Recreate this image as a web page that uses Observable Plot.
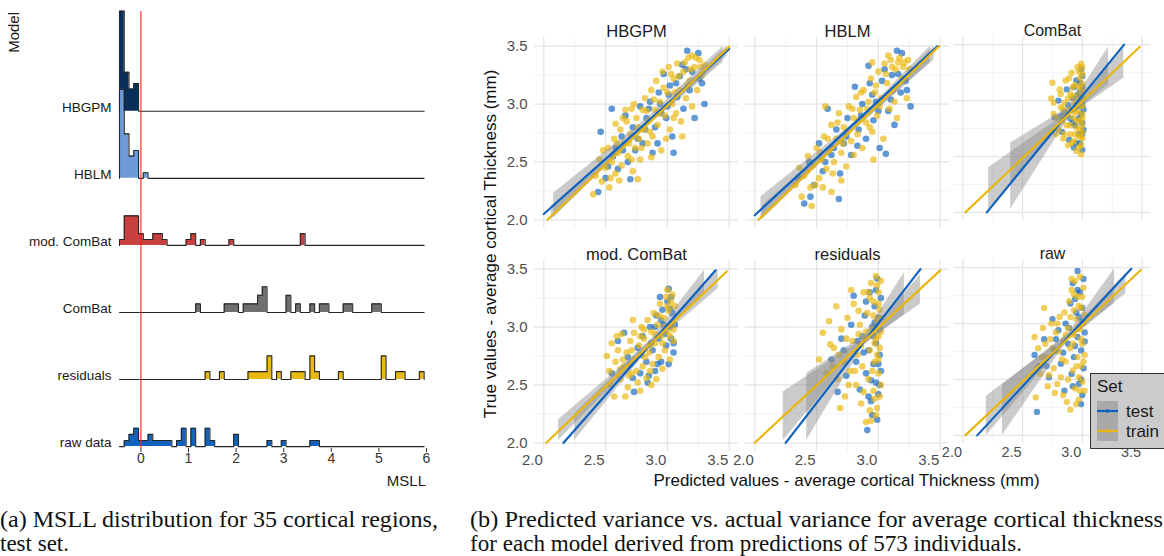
<!DOCTYPE html>
<html>
<head>
<meta charset="utf-8">
<script src="https://cdn.jsdelivr.net/npm/d3@7"></script>
<script src="https://cdn.jsdelivr.net/npm/@observablehq/plot@0.6"></script>
<style>
  html, body { margin: 0; padding: 0; background: #fff; }
  #root { position: relative; width: 1164px; height: 556px; overflow: hidden; font-family: 'Liberation Sans', Arial, sans-serif; }
  .abs { position: absolute; }
</style>
</head>
<body>
<div id="root"></div>
<script>
// ---------------- (a) MSLL ridgeline histograms ----------------
const models = ["HBGPM", "HBLM", "mod. ComBat", "ComBat", "residuals", "raw data"];
const modelColors = ["#0b2f5b", "#6e9bd8", "#c7403f", "#6f6f6f", "#e9b90f", "#0f63bd"];
// [bin start, count] ; bin width 0.1
const hbgpmBins = [[-0.45,18],[-0.35,7],[-0.25,4],[-0.15,5]];
const hblmBins = [[-0.45,16],[-0.35,8],[-0.25,4],[-0.15,5],[0.05,1]];
const modCombatBins = [[-0.45,1],[-0.35,5],[-0.25,5],[-0.15,5],[-0.05,2],[0.05,1],[0.15,1],[0.25,2],[0.35,2],[0.45,1],[0.95,1],[1.05,2],[1.25,1],[1.85,1],[3.35,2]];
const combatBins = [[1.15,1],[1.75,1],[1.85,1],[1.95,1],[2.15,1],[2.25,1],[2.35,1],[2.45,2],[2.55,3],[3.05,2],[3.25,1],[3.55,1],[3.75,1],[3.85,1],[4.25,1],[4.35,1],[4.85,1],[4.95,1]];
const residualBins = [[1.35,1],[1.65,1],[2.25,1],[2.35,1],[2.45,1],[2.55,1],[2.65,3],[2.85,1],[3.15,1],[3.25,1],[3.35,1],[3.55,3],[3.65,1],[4.15,1],[5.05,3],[5.35,1],[5.45,1],[5.85,1]];
const rawBins = [[-0.35,1],[-0.25,2],[-0.15,3],[-0.05,1],[0.05,1],[0.15,2],[0.25,1],[0.35,1],[0.45,1],[0.55,1],[0.75,1],[0.85,3],[1.05,3],[1.35,3],[1.45,1],[1.95,2],[2.65,1],[2.95,1],[3.55,1],[3.65,1]];
const msllTicks = [0, 1, 2, 3, 4, 5, 6];

// ---------------- (b) scatter facets ----------------
const facetNames = ["HBGPM", "HBLM", "ComBat", "mod. ComBat", "residuals", "raw"];
const axisTicks = [2.0, 2.5, 3.0, 3.5];
const minorTicks = [2.25, 2.75, 3.25];
const setNames = ["test", "train"];

const hbgpmTrain = [[2.40,2.22],[2.42,2.38],[2.45,2.52],[2.47,2.33],[2.50,2.45],[2.52,2.62],[2.53,2.28],[2.55,2.50],[2.57,2.70],[2.58,2.40],[2.60,2.58],[2.62,2.78],[2.63,2.47],[2.65,2.66],[2.67,2.85],[2.68,2.55],[2.70,2.74],[2.71,2.96],[2.72,2.42],[2.74,2.62],[2.75,2.88],[2.77,2.70],[2.78,2.52],[2.80,2.95],[2.81,2.78],[2.82,3.05],[2.84,2.66],[2.85,2.86],[2.87,3.12],[2.88,2.72],[2.90,2.95],[2.91,3.20],[2.92,2.82],[2.94,3.02],[2.95,2.60],[2.96,3.28],[2.98,2.90],[3.00,3.10],[3.01,3.32],[3.02,2.78],[3.04,3.00],[3.05,3.22],[3.07,2.92],[3.08,3.35],[3.10,3.12],[3.11,2.85],[3.13,3.28],[3.15,3.05],[3.17,3.40],[3.18,3.20],[3.20,2.98],[3.22,3.32],[3.24,3.12],[3.26,3.38],[3.28,3.25],[3.30,3.34],[2.66,2.95],[2.76,2.35],[3.12,2.72],[2.58,2.83],[3.20,3.42],
  [2.48,2.60],[2.54,2.36],[2.59,2.66],[2.61,2.34],[2.64,2.88],[2.69,2.66],[2.73,3.00],[2.76,2.80],[2.79,2.62],[2.83,2.94],[2.86,2.76],[2.89,3.04],[2.93,2.92],[2.97,3.14],[2.99,2.70],[3.03,3.26],[3.06,3.10],[3.09,3.24],[3.14,3.36],[3.16,3.16],[3.19,3.30],[3.23,3.40],[3.27,3.32],[2.87,2.54],[2.71,2.52],[3.05,2.88]];
const hbgpmTest = [[2.44,2.24],[2.46,2.76],[2.50,2.36],[2.55,2.96],[2.56,2.55],[2.60,2.44],[2.63,2.72],[2.66,2.90],[2.68,2.50],[2.72,2.80],[2.74,2.60],[2.78,2.98],[2.80,2.66],[2.83,2.88],[2.86,3.02],[2.88,2.58],[2.90,2.80],[2.93,3.10],[2.95,2.92],[2.97,3.26],[3.00,2.98],[3.02,3.16],[3.04,2.72],[3.05,2.58],[3.08,3.06],[3.10,3.24],[3.13,2.96],[3.15,3.30],[3.16,3.46],[3.18,3.12],[3.22,2.88],[3.25,3.44],[3.26,3.22],[3.28,3.18],[3.30,3.00],[2.92,2.66],[2.70,2.35],
  [2.52,2.46],[2.58,2.62],[2.64,2.60],[2.76,2.70],[2.85,2.96],[2.94,3.00],[3.01,3.08],[3.07,3.18],[3.12,3.34],[3.20,3.28],[2.99,2.88],[2.82,2.78]];
const hblmTrain = [[2.33,2.30],[2.36,2.45],[2.38,2.20],[2.40,2.38],[2.43,2.55],[2.45,2.28],[2.47,2.47],[2.50,2.62],[2.52,2.36],[2.54,2.52],[2.56,2.72],[2.58,2.44],[2.60,2.60],[2.62,2.82],[2.64,2.50],[2.66,2.70],[2.68,2.92],[2.70,2.58],[2.72,2.80],[2.74,2.46],[2.76,2.98],[2.78,2.68],[2.80,2.88],[2.82,3.06],[2.83,2.74],[2.85,2.95],[2.87,2.62],[2.88,3.12],[2.90,2.84],[2.92,3.02],[2.94,3.22],[2.95,2.76],[2.97,3.10],[2.99,2.90],[3.00,3.28],[3.02,3.05],[3.04,2.70],[3.05,3.35],[3.07,3.18],[3.09,2.96],[3.10,3.38],[3.12,3.12],[3.14,3.30],[3.15,2.88],[3.17,3.40],[3.19,3.22],[3.21,3.36],[3.23,3.05],[3.25,3.30],[2.57,2.98],[2.70,2.34],[2.96,2.52],[3.08,3.42],[2.46,2.12],[2.62,2.24],
  [2.42,2.42],[2.49,2.30],[2.53,2.58],[2.59,2.70],[2.63,2.40],[2.67,2.84],[2.71,2.66],[2.75,2.76],[2.79,2.96],[2.84,2.86],[2.86,3.10],[2.91,2.96],[2.93,2.80],[2.98,3.16],[3.01,2.98],[3.06,3.26],[3.11,3.32],[3.13,3.02],[3.16,3.36],[3.20,3.32],[3.24,3.38],[2.80,2.56],[2.95,3.36],[2.55,2.28]];
const hblmTest = [[2.35,2.36],[2.40,2.14],[2.44,2.50],[2.48,2.30],[2.52,2.66],[2.55,2.42],[2.59,2.96],[2.62,2.56],[2.66,2.78],[2.69,2.40],[2.72,2.66],[2.75,2.88],[2.78,2.56],[2.81,3.15],[2.84,2.78],[2.87,3.00],[2.90,2.70],[2.93,3.18],[2.96,2.86],[2.98,3.02],[3.01,2.62],[3.03,3.20],[3.06,2.57],[3.08,2.94],[3.11,3.25],[3.13,2.82],[3.15,3.46],[3.18,3.10],[3.19,3.44],[3.22,3.20],[3.23,3.12],[3.26,2.98],[2.92,3.33],[2.68,2.18],
  [2.45,2.20],[2.57,2.50],[2.64,2.62],[2.74,2.72],[2.86,2.90],[2.95,3.08],[3.00,2.94],[3.05,3.30],[3.10,3.04],[3.16,3.26],[2.83,2.64]];
const combatTrain = [[2.74,3.02],[2.76,2.88],[2.75,3.16],[2.80,2.74],[2.81,3.10],[2.83,2.82],[2.84,2.66],[2.85,2.98],[2.86,3.18],[2.87,2.78],[2.88,2.60],[2.89,2.92],[2.90,3.06],[2.90,2.70],[2.91,3.25],[2.92,2.85],[2.93,2.98],[2.93,2.64],[2.94,3.14],[2.95,2.76],[2.95,2.55],[2.96,3.30],[2.96,2.90],[2.97,3.05],[2.97,2.68],[2.98,3.20],[2.98,2.82],[2.99,2.60],[2.99,3.10],[3.00,2.95],[3.00,2.72],[2.99,3.33],[3.00,2.88],[2.99,2.52],[3.00,3.15],[3.01,3.02],[3.00,2.78],[3.00,2.66],[2.82,2.94],[2.88,3.02],[2.94,2.90],[2.97,2.58],[3.00,3.24],[2.85,2.70],[2.79,2.84],[2.92,3.12],
  [2.78,2.70],[2.82,3.06],[2.86,2.86],[2.89,3.20],[2.91,2.62],[2.94,2.70],[2.96,3.00],[2.97,3.26],[2.98,2.74],[2.99,2.96],[3.00,3.08],[3.00,2.84],[2.95,2.82],[2.92,3.04],[2.98,3.12],[2.84,2.92],[2.99,2.68],[2.90,2.78],[2.76,2.98],[3.00,3.30]];
const combatTest = [[2.77,2.85],[2.80,3.00],[2.83,2.72],[2.85,2.90],[2.87,3.10],[2.89,2.65],[2.90,2.84],[2.92,3.02],[2.93,2.58],[2.94,2.78],[2.95,3.18],[2.96,2.95],[2.97,2.70],[2.98,3.08],[2.98,2.62],[2.99,2.88],[3.00,3.22],[3.00,2.80],[3.00,3.00],[3.00,2.56],[2.99,3.28],[3.01,2.92],[3.00,3.12],[3.01,2.74],[2.91,2.92],[2.96,3.05],
  [2.82,2.86],[2.88,2.96],[2.93,3.12],[2.95,2.62],[2.97,2.84],[2.99,3.04],[3.00,2.70],[2.98,3.16],[2.92,2.80],[3.00,2.96]];
const modCombatTrain = [[2.51,2.75],[2.53,2.62],[2.55,2.86],[2.57,2.40],[2.58,2.70],[2.60,2.80],[2.62,2.55],[2.63,2.94],[2.65,2.66],[2.67,2.78],[2.68,2.48],[2.70,2.88],[2.71,2.60],[2.73,2.95],[2.74,2.72],[2.76,2.52],[2.77,2.84],[2.79,3.00],[2.80,2.66],[2.81,2.90],[2.83,2.56],[2.84,3.06],[2.85,2.78],[2.87,2.96],[2.88,2.68],[2.89,3.12],[2.90,2.86],[2.92,3.02],[2.93,2.74],[2.94,3.20],[2.95,2.92],[2.96,2.64],[2.97,3.08],[2.98,2.80],[2.99,3.26],[3.00,2.96],[3.01,3.14],[3.02,2.72],[3.03,3.22],[3.04,3.04],[3.05,2.88],[3.06,3.18],[2.66,2.40],[2.78,2.45],[2.91,2.55],[2.72,3.06],[2.86,2.62],[3.00,3.32],
  [2.54,2.50],[2.59,2.92],[2.64,2.72],[2.69,2.58],[2.71,2.80],[2.75,2.62],[2.78,2.92],[2.82,2.74],[2.86,2.84],[2.90,2.94],[2.93,3.10],[2.96,2.86],[2.98,3.00],[3.00,3.18],[3.02,2.92],[3.04,3.28],[3.05,2.98],[2.87,2.50],[2.81,2.98],[2.62,2.64]];
const modCombatTest = [[2.55,2.60],[2.60,2.88],[2.65,2.95],[2.68,2.74],[2.72,2.56],[2.73,2.44],[2.76,2.82],[2.78,2.60],[2.80,2.92],[2.83,2.70],[2.85,2.58],[2.86,3.00],[2.88,2.80],[2.90,2.62],[2.91,3.10],[2.93,2.90],[2.95,2.70],[2.96,3.15],[2.97,3.02],[2.99,2.84],[3.00,3.22],[3.01,2.68],[3.01,3.33],[3.02,3.00],[3.03,2.90],[3.04,3.12],[3.06,3.02],[3.05,2.78],[2.84,2.52],[2.94,3.26],
  [2.70,2.68],[2.79,2.76],[2.87,2.86],[2.92,2.68],[2.98,2.94],[3.02,3.16],[3.05,2.86],[2.95,3.06],[2.90,3.00],[3.03,3.26]];
const residualsTrain = [[2.52,2.72],[2.55,2.95],[2.58,2.60],[2.61,2.85],[2.64,2.82],[2.66,3.18],[2.67,2.55],[2.70,2.98],[2.72,2.70],[2.73,2.40],[2.75,3.08],[2.77,2.62],[2.79,2.88],[2.80,3.20],[2.82,2.50],[2.83,2.76],[2.85,3.02],[2.86,2.34],[2.87,2.66],[2.88,3.30],[2.89,2.90],[2.90,2.18],[2.91,3.12],[2.92,2.55],[2.93,2.80],[2.94,3.38],[2.94,2.19],[2.95,2.98],[2.96,2.45],[2.96,3.22],[2.97,2.70],[2.98,3.44],[2.98,2.90],[2.99,2.30],[2.99,3.06],[3.00,2.60],[3.00,3.30],[3.01,2.82],[3.01,3.15],[3.02,2.50],[3.02,3.40],[3.02,2.96],[2.97,2.38],[2.93,3.25],[3.00,2.72],[2.84,2.94],[2.69,2.30],[2.78,3.32],
  [2.60,3.05],[2.63,2.66],[2.68,2.76],[2.74,2.90],[2.81,2.62],[2.84,3.14],[2.88,2.44],[2.90,2.96],[2.92,3.30],[2.95,2.62],[2.96,3.10],[2.97,2.86],[2.98,2.24],[2.99,2.76],[3.00,3.20],[3.01,2.40],[3.02,3.08],[3.00,2.92],[2.93,2.28],[2.86,2.84],[2.99,3.36],[2.76,2.50]];
const residualsTest = [[2.62,2.72],[2.67,2.44],[2.70,2.90],[2.74,2.58],[2.78,3.02],[2.80,3.27],[2.82,2.70],[2.85,2.46],[2.87,2.92],[2.89,3.10],[2.90,2.60],[2.91,2.11],[2.92,2.80],[2.93,3.30],[2.94,2.36],[2.95,3.00],[2.96,2.68],[2.97,3.18],[2.98,2.52],[2.98,2.86],[2.99,3.42],[3.00,2.42],[3.00,3.08],[3.01,2.76],[3.01,2.98],[3.02,3.25],[3.02,2.62],[2.95,2.24],[2.88,2.78],[2.99,2.20],
  [2.72,2.80],[2.83,2.88],[2.90,3.22],[2.94,2.54],[2.96,2.92],[2.98,3.32],[3.00,2.68],[3.01,2.50],[2.97,3.04],[2.92,2.40]];
const rawTrain = [[2.60,2.88],[2.61,2.34],[2.63,2.78],[2.65,2.55],[2.67,2.96],[2.68,3.14],[2.70,2.70],[2.71,2.44],[2.73,2.86],[2.74,3.00],[2.76,2.60],[2.77,2.38],[2.78,2.92],[2.80,2.75],[2.81,3.06],[2.82,2.52],[2.84,2.85],[2.85,3.10],[2.86,2.66],[2.87,2.30],[2.88,2.96],[2.89,3.20],[2.90,2.23],[2.90,2.78],[2.91,3.30],[2.92,2.58],[2.93,2.90],[2.94,3.38],[2.94,2.42],[2.95,3.04],[2.96,2.70],[2.96,3.24],[2.97,2.32],[2.98,2.95],[2.98,3.42],[2.99,2.62],[2.99,3.14],[3.00,2.82],[3.00,2.48],[3.01,3.32],[3.01,3.00],[3.02,2.72],[3.02,2.40],[2.93,3.12],[2.79,2.46],[2.97,2.52],
  [2.62,2.60],[2.66,2.70],[2.69,2.82],[2.72,2.54],[2.75,2.78],[2.79,3.00],[2.83,2.68],[2.86,2.90],[2.88,2.50],[2.90,3.06],[2.92,2.82],[2.93,3.26],[2.95,2.62],[2.96,2.96],[2.97,3.16],[2.98,2.40],[2.99,2.86],[3.00,3.24],[3.01,2.66],[3.02,3.08],[2.95,2.28],[2.91,3.40],[2.84,2.36]];
const rawTest = [[2.60,2.72],[2.62,2.21],[2.64,2.62],[2.68,2.86],[2.72,2.52],[2.75,3.04],[2.77,2.76],[2.80,2.94],[2.82,2.64],[2.85,2.40],[2.86,3.00],[2.88,2.82],[2.90,3.18],[2.91,2.55],[2.92,3.36],[2.93,2.70],[2.95,3.10],[2.96,3.47],[2.96,2.88],[2.97,2.46],[2.98,3.28],[2.99,2.76],[3.00,3.02],[3.00,2.36],[3.01,3.40],[3.01,2.60],[3.02,2.92],[2.94,3.22],[2.99,2.28],
  [2.70,2.62],[2.78,2.86],[2.84,2.74],[2.89,2.96],[2.94,2.80],[2.97,3.06],[2.99,2.50],[3.00,3.14],[3.02,2.84],[2.96,3.30],[2.92,2.44]];

const testPoints = [hbgpmTest, hblmTest, combatTest, modCombatTest, residualsTest, rawTest];
const trainPoints = [hbgpmTrain, hblmTrain, combatTrain, modCombatTrain, residualsTrain, rawTrain];

// fitted lines: [x1, y1, x2, y2]
const testLines = [[2.0,2.05,3.5,3.477],[2.0,2.04,3.48,3.5],[2.2,2.0,3.35,3.5],[2.16,2.0,3.39,3.49],[2.25,2.0,3.34,3.5],[2.12,2.0,3.41,3.49]];
const trainLines = [[2.03,2.0,3.5,3.495],[2.03,2.0,3.49,3.5],[2.02,2.0,3.48,3.48],[2.02,2.0,3.48,3.48],[2.0,2.0,3.5,3.49],[2.02,2.0,3.49,3.48]];
// confidence bands: [x, lower, upper]
const testBands = [
  [[2.08,2.02,2.23],[2.85,2.82,2.89],[3.45,3.36,3.5]],
  [[2.05,2.0,2.2],[2.85,2.82,2.88],[3.42,3.36,3.5]],
  [[2.40,2.03,2.62],[2.9,2.87,2.95],[3.22,3.14,3.48]],
  [[2.25,2.02,2.25],[2.88,2.85,2.91],[3.3,3.29,3.49]],
  [[2.42,2.02,2.6],[2.88,2.84,2.92],[3.21,3.11,3.47]],
  [[2.33,2.0,2.45],[2.88,2.85,2.91],[3.27,3.18,3.49]]
];
const trainBands = [
  [[2.06,2.0,2.12],[2.85,2.82,2.85],[3.48,3.41,3.5]],
  [[2.06,2.0,2.12],[2.85,2.82,2.86],[3.45,3.38,3.5]],
  [[2.215,2.02,2.4],[2.9,2.87,2.91],[3.347,3.2,3.47]],
  [[2.12,2.02,2.2],[2.88,2.85,2.89],[3.41,3.33,3.49]],
  [[2.23,2.02,2.44],[2.88,2.85,2.9],[3.34,3.2,3.45]],
  [[2.196,2.0,2.35],[2.88,2.85,2.9],[3.365,3.27,3.45]]
];

const captionA = ["(a) MSLL distribution for 35 cortical regions,", "test set."];
const captionB = ["(b) Predicted variance vs. actual variance for average cortical thickness", "for each model derived from predictions of 573 individuals."];

// ---------------- rendering ----------------
const root = document.getElementById("root");
const FONT = "'Liberation Sans', Arial, sans-serif";
const testColor = "#0d62bf", trainColor = "#e9b60b";

function place(node, left, top) {
  const d = document.createElement("div");
  d.className = "abs";
  d.style.left = left + "px";
  d.style.top = top + "px";
  d.appendChild(node);
  root.appendChild(d);
  return d;
}

// (a)
const binStart = -0.45, binWidth = 0.1, nBins = 64, rowGap = 3.545;
const allBins = [hbgpmBins, hblmBins, modCombatBins, combatBins, residualBins, rawBins];
const ridgeMarks = [];
allBins.forEach((bins, i) => {
  const total = d3.sum(bins, b => b[1]);
  const counts = new Map(bins.map(b => [Math.round((b[0] - binStart) / binWidth), b[1]]));
  const base = (models.length - 1 - i) * rowGap;
  const series = [{x: binStart, base, top: base}];
  for (let k = 0; k < nBins; k++) {
    const c = counts.get(k) || 0;
    series.push({x: binStart + k * binWidth, base, top: base + c / total / binWidth});
  }
  series.push({x: binStart + nBins * binWidth, base, top: base});
  ridgeMarks.push(Plot.areaY(series, {x: "x", y1: "base", y2: "top", curve: "step-after", fill: modelColors[i]}));
  ridgeMarks.push(Plot.lineY(series, {x: "x", y: "top", curve: "step-after", stroke: "#262626", strokeWidth: 1.1}));
});
const labelRows = models.map((m, i) => ({name: m, base: (models.length - 1 - i) * rowGap}));

const leftPlot = Plot.plot({
  width: 440, height: 490,
  marginLeft: 119, marginRight: 14, marginTop: 11, marginBottom: 42,
  x: {domain: [-0.45, 6.0]},
  y: {domain: [-0.1, 23.0], axis: null},
  style: {fontFamily: FONT, fontSize: "14px", background: "transparent", overflow: "visible", color: "#222"},
  marks: [
    ...ridgeMarks,
    Plot.ruleX([0], {stroke: "#ff1a1a", strokeWidth: 1.1}),
    Plot.text(labelRows, {x: () => -0.45, y: "base", text: "name", textAnchor: "end", dx: -8, dy: -4, fontSize: 13.5, fill: "#1a1a1a"}),
    Plot.axisX(msllTicks, {tickSize: 4, tickPadding: 1, fontSize: 14, color: "#333", label: null})
  ]
});
place(leftPlot, 0, 0);

// axis titles of (a)
const msll = document.createElement("div");
msll.textContent = "MSLL";
Object.assign(msll.style, {position: "absolute", left: "326px", width: "100px", textAlign: "right", top: "472px", fontSize: "15px", color: "#1a1a1a", lineHeight: "18px"});
root.appendChild(msll);
const modelT = document.createElement("div");
modelT.textContent = "Model";
Object.assign(modelT.style, {position: "absolute", left: "-36px", top: "53px", width: "100px", height: "18px", textAlign: "right", fontSize: "15px", color: "#1a1a1a", lineHeight: "18px", transform: "rotate(-90deg)", transformOrigin: "50% 50%"});
root.appendChild(modelT);

// (b)
const colLeft = [534, 744.5, 955], rowTop = [37, 259.6];
const PW = 204, PH = 191;
const mL = 44, mR = 14, mT = 34, mB = 30;
facetNames.forEach((name, i) => {
  const col = i % 3, row = Math.floor(i / 3);
  const showX = row === 1, showY = col === 0;
  const marks = [
    Plot.gridX(minorTicks, {stroke: "#efefef", strokeOpacity: 1, strokeWidth: 0.8}),
    Plot.gridY(minorTicks, {stroke: "#efefef", strokeOpacity: 1, strokeWidth: 0.8}),
    Plot.gridX(axisTicks, {stroke: "#e4e4e4", strokeOpacity: 1, strokeWidth: 1.2}),
    Plot.gridY(axisTicks, {stroke: "#e4e4e4", strokeOpacity: 1, strokeWidth: 1.2}),
    Plot.dot(testPoints[i], {x: d => d[0], y: d => d[1], r: 3.3, fill: testColor, fillOpacity: 0.66}),
    Plot.dot(trainPoints[i], {x: d => d[0], y: d => d[1], r: 3.3, fill: trainColor, fillOpacity: 0.66}),
    Plot.areaY(testBands[i], {x: d => d[0], y1: d => d[1], y2: d => d[2], fill: "#8c8c8c", fillOpacity: 0.45}),
    Plot.areaY(trainBands[i], {x: d => d[0], y1: d => d[1], y2: d => d[2], fill: "#8c8c8c", fillOpacity: 0.45}),
    Plot.line([[testLines[i][0], testLines[i][1]], [testLines[i][2], testLines[i][3]]], {x: d => d[0], y: d => d[1], stroke: testColor, strokeWidth: 2.2}),
    Plot.line([[trainLines[i][0], trainLines[i][1]], [trainLines[i][2], trainLines[i][3]]], {x: d => d[0], y: d => d[1], stroke: trainColor, strokeWidth: 2.2}),
    Plot.text([name], {text: d => d, frameAnchor: "top", dy: -12, fontSize: 16.5, fill: "#1a1a1a"})
  ];
  if (showX) marks.push(Plot.axisX(axisTicks, {tickSize: 0, tickPadding: 3, textAnchor: "end", dx: -1, tickFormat: d => d.toFixed(1), fontSize: 15, color: "#4d4d4d", label: null}));
  if (showY) marks.push(Plot.axisY(axisTicks, {tickSize: 0, tickPadding: 7, tickFormat: d => d.toFixed(1), fontSize: 15, color: "#4d4d4d", label: null}));
  const p = Plot.plot({
    width: mL + PW + mR, height: mT + PH + mB,
    marginLeft: mL, marginRight: mR, marginTop: mT, marginBottom: mB,
    x: showX ? {domain: [1.925, 3.575]} : {domain: [1.925, 3.575], axis: null},
    y: showY ? {domain: [1.925, 3.575]} : {domain: [1.925, 3.575], axis: null},
    style: {fontFamily: FONT, fontSize: "15px", background: "transparent", overflow: "visible"},
    marks
  });
  place(p, colLeft[col] - mL, rowTop[row] - mT);
});

// shared axis titles
const xt = document.createElement("div");
xt.textContent = "Predicted values - average cortical Thickness (mm)";
Object.assign(xt.style, {position: "absolute", left: "534px", width: "625px", textAlign: "center", top: "471px", fontSize: "17px", lineHeight: "20px", color: "#111", whiteSpace: "nowrap"});
root.appendChild(xt);
const yt = document.createElement("div");
yt.textContent = "True values - average cortical Thickness (mm)";
Object.assign(yt.style, {position: "absolute", left: "291px", top: "234px", width: "400px", height: "20px", textAlign: "center", fontSize: "17px", lineHeight: "20px", color: "#111", whiteSpace: "nowrap", transform: "rotate(-90deg)", transformOrigin: "50% 50%"});
root.appendChild(yt);

// legend
const leg = d3.create("svg").attr("width", 80).attr("height", 78).style("overflow", "visible").style("font-family", FONT);
leg.append("rect").attr("x", 0.5).attr("y", 0.5).attr("width", 90).attr("height", 75).attr("fill", "#cbcbcb").attr("stroke", "#333").attr("stroke-width", 1);
leg.append("text").attr("x", 7).attr("y", 19).attr("font-size", 17).attr("fill", "#1a1a1a").text("Set");
[testColor, trainColor].forEach((c, k) => {
  const y0 = 28 + k * 20;
  leg.append("rect").attr("x", 7).attr("y", y0).attr("width", 21).attr("height", 20).attr("fill", "#a9a9a9");
  leg.append("line").attr("x1", 7).attr("x2", 28).attr("y1", y0 + 10).attr("y2", y0 + 10).attr("stroke", c).attr("stroke-width", 2.2);
  leg.append("circle").attr("cx", 17.5).attr("cy", y0 + 10).attr("r", 2).attr("fill", c).attr("fill-opacity", 0.7);
  leg.append("text").attr("x", 36).attr("y", y0 + 16).attr("font-size", 17).attr("fill", "#1a1a1a").text(setNames[k]);
});
place(leg.node(), 1090, 373);

// captions
const cap = d3.create("svg").attr("width", 1164).attr("height", 60).style("overflow", "visible")
  .style("font-family", "'Liberation Serif', 'Times New Roman', serif");
const capLines = [
  {t: captionA[0], x: 0, y: 31, len: 438},
  {t: captionA[1], x: 0, y: 55, len: null},
  {t: captionB[0], x: 470, y: 31, len: 693},
  {t: captionB[1], x: 470, y: 55, len: 552}
];
capLines.forEach(c => {
  const t = cap.append("text").attr("x", c.x).attr("y", c.y).attr("font-size", 23).attr("fill", "#111").text(c.t);
  if (c.len) t.attr("textLength", c.len).attr("lengthAdjust", "spacingAndGlyphs");
});
place(cap.node(), 0, 496);
</script>
</body>
</html>
